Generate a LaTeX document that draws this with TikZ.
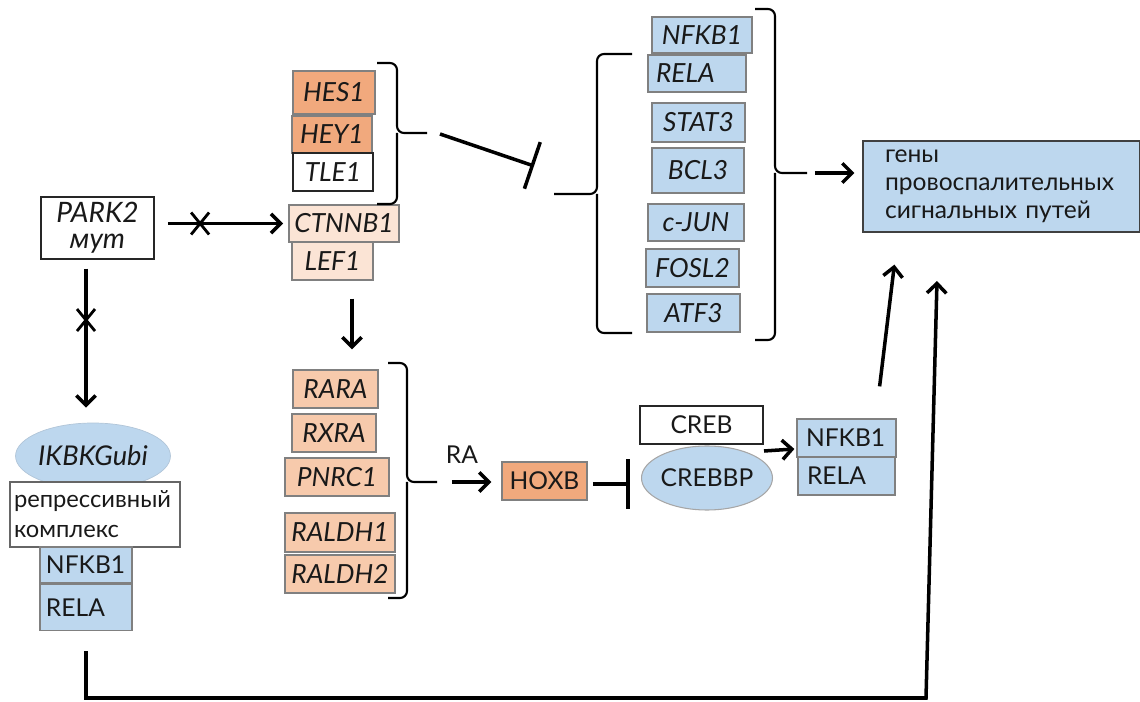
\documentclass[tikz,border=0pt]{standalone}
\usepackage{fontspec}
\setmainfont{Lato}
\usetikzlibrary{arrows.meta,calc,shapes.geometric}

\definecolor{notchorange}{RGB}{241,169,125}
\definecolor{wntpeach}{RGB}{251,228,213}
\definecolor{rapeach}{RGB}{247,202,172}
\definecolor{nfblue}{RGB}{189,215,238}
\definecolor{boxgray}{RGB}{128,128,128}

\tikzset{
  every node/.style={font=\fontsize{14}{16}\selectfont, text=black!90},
  sz/.style 2 args={minimum width=#1*0.02cm, minimum height=#2*0.02cm},
  lefttext/.style={text width=#1*0.02cm, align=left},
  gene/.style={draw=boxgray, line width=0.7pt, inner sep=0pt, font=\fontsize{15}{17}\selectfont\itshape},
  prot/.style={draw=boxgray, line width=0.7pt, inner sep=0pt},
  plainbox/.style={draw=black!85, line width=0.7pt, fill=white, inner sep=0pt},
  arr/.style={-{Straight Barb[length=5.5pt,width=11pt]}, line width=2pt},
  inh/.style={-{Bar[width=28pt]}, line width=2pt},
  brace/.style={line width=1.2pt, rounded corners=4pt},
  xmark/.style={line width=1.6pt}
}

\begin{document}
\begin{tikzpicture}[x=0.02cm, y=-0.02cm]
  \useasboundingbox (0,0) rectangle (1140,702);

  % mutant PARK2
  \node[plainbox, sz={113}{62}, align=center, font=\fontsize{16}{15}\selectfont\itshape] (park) at (97.5,228) {PARK2\\мут};

  % Notch targets and Wnt
  \node[gene, fill=notchorange, sz={82}{43}] (hes) at (334,92.5) {HES1};
  \node[gene, fill=notchorange, sz={80}{37}] (hey) at (332,134.5) {HEY1};
  \node[gene, draw=black!85, fill=white, sz={80}{38}] (tle) at (333,172) {TLE1};
  \node[gene, fill=wntpeach, sz={110}{37}] (ctnnb) at (344,223.5) {CTNNB1};
  \node[gene, fill=wntpeach, sz={81}{38}] (lef) at (332.5,261) {LEF1};

  % NF-kB related genes
  \node[gene, fill=nfblue, sz={100}{36}] (nfkbT) at (702,35) {NFKB1};
  \node[gene, fill=nfblue, sz={98}{37}, lefttext=82] (relaT) at (697,73.5) {RELA};
  \node[gene, fill=nfblue, sz={93}{39}] (stat) at (698.5,122.5) {STAT3};
  \node[gene, fill=nfblue, sz={92}{45}] (bcl) at (698,170.5) {BCL3};
  \node[gene, fill=nfblue, sz={96}{37}] (cjun) at (696,222.5) {c-JUN};
  \node[gene, fill=nfblue, sz={93}{38}] (fosl) at (692.5,268) {FOSL2};
  \node[gene, fill=nfblue, sz={93}{38}] (atf) at (693.5,313) {ATF3};

  % target genes
  \node[draw=black!75, line width=0.7pt, fill=nfblue, inner sep=0pt, sz={277}{91}, lefttext=233] (genes) at (1001.5,186.5)
    {гены\\провоспалительных\\сигнальных путей};

  % repressive complex
  \node[ellipse, fill=nfblue, draw=nfblue!80!gray, inner sep=0pt, sz={147}{66}, font=\fontsize{15.5}{17}\selectfont\itshape] (ikbkg) at (93,456) {IKBKGubi};
  \node[plainbox, draw=black!60, sz={170}{65}, lefttext=162, font=\fontsize{13.5}{17}\selectfont] (repr) at (95,514.5) {репрессивный\\комплекс};
  \node[prot, fill=nfblue, sz={92}{36}, lefttext=80] (nfkbL) at (86,565) {NFKB1};
  \node[prot, fill=nfblue, sz={92}{46}, lefttext=80] (relaL) at (86,607.5) {RELA};

  % retinoic acid pathway
  \node[gene, fill=rapeach, sz={85}{38}] (rara) at (335.5,389) {RARA};
  \node[gene, fill=rapeach, sz={84}{38}] (rxra) at (334,433) {RXRA};
  \node[gene, fill=rapeach, sz={104}{38}] (pnrc) at (337,477) {PNRC1};
  \node[gene, fill=rapeach, sz={110}{39}] (raldhA) at (340,532.5) {RALDH1};
  \node[gene, fill=rapeach, sz={110}{38}] (raldhB) at (340,574) {RALDH2};
  \node (ra) at (462,455) {RA};
  \node[prot, fill=notchorange, sz={85}{38}] (hoxb) at (544.5,481) {HOXB};

  % CREB / CREBBP
  \node[plainbox, sz={123}{38}] (creb) at (701.5,425) {CREB};
  \node[ellipse, fill=nfblue, draw=boxgray!70, line width=0.6pt, inner sep=0pt, sz={122}{64}] (crebbp) at (707,478) {CREBBP};
  \node[prot, fill=nfblue, sz={99}{38}, lefttext=81] (nfkbR) at (846.5,438) {NFKB1};
  \node[prot, fill=nfblue, sz={97}{38}, lefttext=79] (relaR) at (846.5,476) {RELA};

  % brace tips and loose ends
  \coordinate (hesTip) at (427,133);
  \coordinate (blueTipL) at (554,194);
  \coordinate (blueTipR) at (807,173);
  \coordinate (raTip) at (437,482);
  \coordinate (blueBlock) at (534,166);
  \coordinate (hoxbBlock) at (630,484);
  \coordinate (loopCorner) at (926,698);
  \coordinate (loopEnd) at (937,281);

  % Braces
  \draw[brace] (377,63) -| (397,133) -- (hesTip);
  \draw[brace] (397,133) |- (377,204);
  \draw[brace] (632,54) -| (597,194) -- (blueTipL);
  \draw[brace] (597,194) |- (632,333);
  \draw[brace] (755,9) -| (775,173) -- (blueTipR);
  \draw[brace] (775,173) |- (755,340);
  \draw[brace] (388,363) -| (407,482) -- (raTip);
  \draw[brace] (407,482) |- (388,598);

  % Arrows
  \draw[arr, shorten <=7.5pt, shorten >=3pt] (park.east |- ctnnb.west) -- (ctnnb.west) coordinate[pos=0.34] (cutA);
  \draw[arr] ($(park.south)+(-11.5,9)$) -- ($(ikbkg.north)+(-7,-15)$) coordinate[pos=0.37] (cutB);
  \draw[arr] ($(lef.south)+(19.5,18)$) -- ($(rara.north)+(16.5,-20)$);
  \draw[inh] ($(hesTip)+(13,1)$) -- (blueBlock);
  \draw[arr, shorten <=4.5pt, shorten >=4.5pt] (blueTipR) -- (genes.west |- blueTipR);
  \draw[arr, shorten <=8.5pt] (raTip) -- ($(hoxb.west)+(-10,1)$);
  \draw[inh, shorten <=3pt] (hoxb.east |- hoxbBlock) -- (hoxbBlock);
  \draw[arr] ($(crebbp.east)+(-9,-27)$) -- ($(nfkbR.west)+(-2,11)$);
  \draw[arr] ($(nfkbR.north east)+(-17,-32)$) -- ($(genes.south west)+(32,32)$);
  \draw[arr] ($(relaL.south)+(0,20)$) |- (loopCorner) -- (loopEnd);

  % crossed-out links
  \foreach \c in {cutA,cutB}
    \draw[xmark] ($(\c)+(-9,-11)$) -- ($(\c)+(9,11)$) ($(\c)+(9,-11)$) -- ($(\c)+(-9,11)$);
\end{tikzpicture}
\end{document}
